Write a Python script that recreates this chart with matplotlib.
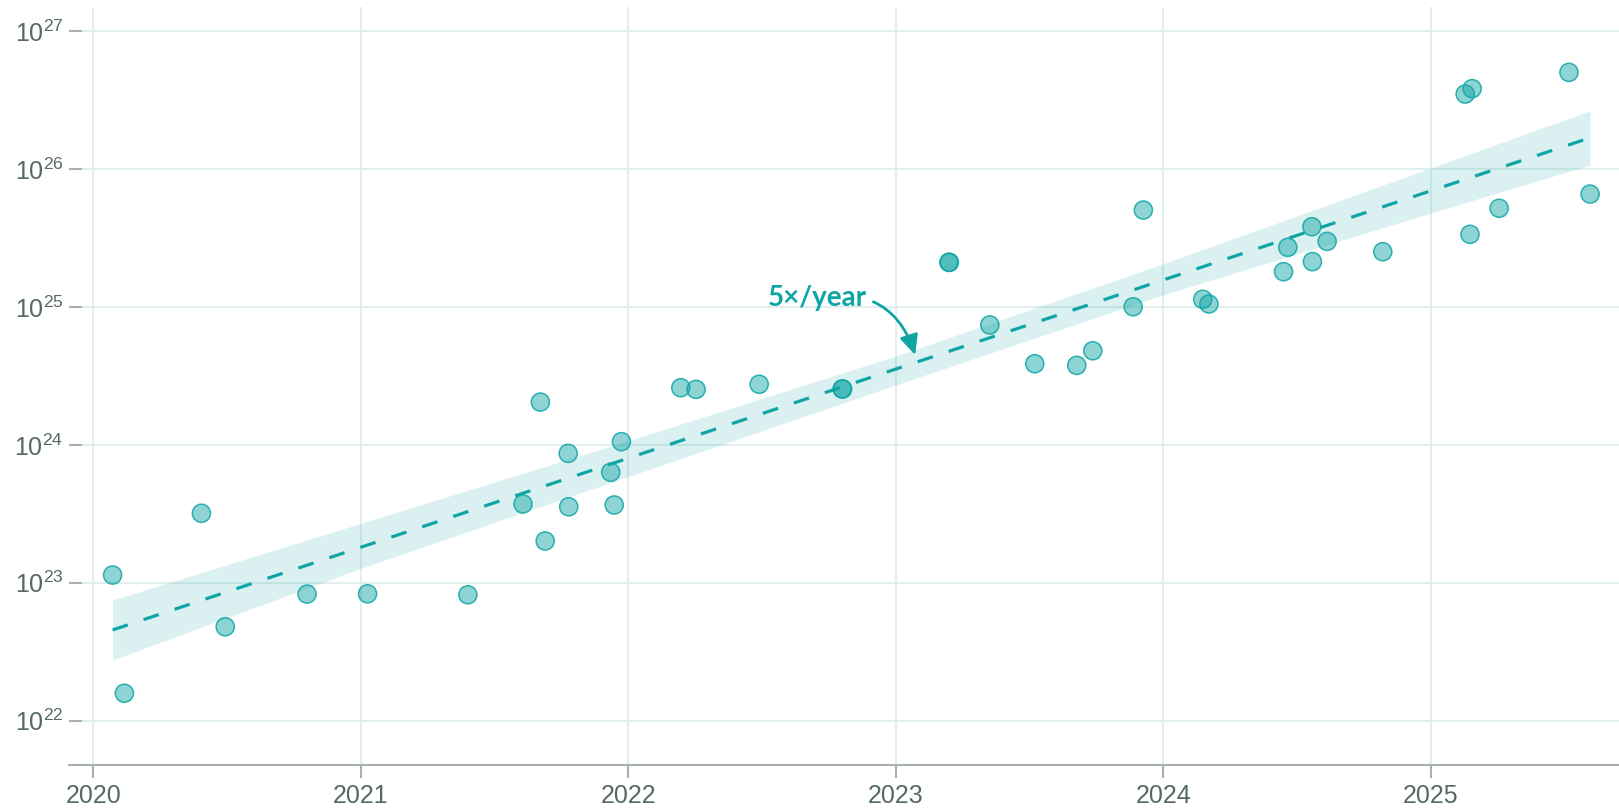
import numpy as np
import matplotlib
matplotlib.use("Agg")
import matplotlib.pyplot as plt
from matplotlib.ticker import FixedLocator

plt.rcParams['font.family'] = ['Liberation Sans', 'DejaVu Sans']
plt.rcParams['mathtext.default'] = 'regular'
plt.rcParams['lines.scale_dashes'] = False

# publication date (decimal year) and log10 of training compute
years = [2020.072, 2020.116, 2020.404, 2020.493, 2020.799, 2021.025, 2021.400,
         2021.606, 2021.671, 2021.689, 2021.775, 2021.777, 2021.934, 2021.947,
         2021.974, 2022.196, 2022.253, 2022.489, 2022.799, 2022.801, 2023.198,
         2023.200, 2023.351, 2023.519, 2023.676, 2023.736, 2023.887, 2023.925,
         2024.147, 2024.170, 2024.449, 2024.465, 2024.555, 2024.557, 2024.612,
         2024.820, 2025.128, 2025.146, 2025.154, 2025.255, 2025.516, 2025.595]
log_compute = [23.056, 22.199, 23.504, 22.681, 22.918, 22.920, 22.913,
               23.571, 24.310, 23.303, 23.938, 23.551, 23.801, 23.564,
               24.023, 24.414, 24.402, 24.439, 24.405, 24.405, 25.323,
               25.323, 24.869, 24.588, 24.576, 24.682, 25.001, 25.702,
               25.055, 25.021, 25.255, 25.432, 25.581, 25.328, 25.475,
               25.400, 26.543, 25.526, 26.582, 25.715, 26.700, 25.818]

# trend line and its confidence band (log10 values)
trend_years = [2020.072, 2025.595]
trend_log = [22.658, 26.226]
band_years = [2020.072, 2021.0, 2022.0, 2023.0, 2024.0, 2025.0, 2025.595]
band_lo = [22.440, 23.105, 23.770, 24.434, 25.088, 25.680, 26.029]
band_hi = [22.875, 23.431, 24.030, 24.644, 25.313, 26.008, 26.422]

tick_years = [2020, 2021, 2022, 2023, 2024, 2025]
tick_exps = [22, 23, 24, 25, 26, 27]

teal = '#0fa5a5'
grid_c = '#e3eeee'
axis_c = '#a9b0b0'
text_c = '#566868'

fig = plt.figure(figsize=(16.19, 8.10), dpi=100)
ax = fig.add_axes([69 / 1619, 45 / 810, 1 - 69 / 1619, (765 - 7) / 810])

ax.set_yscale('log')
ax.fill_between(band_years, 10.0 ** np.array(band_lo), 10.0 ** np.array(band_hi),
                color=teal, alpha=0.15, lw=0, zorder=2)
ax.plot(trend_years, 10.0 ** np.array(trend_log), color=teal, lw=2.3,
        dashes=(11.5, 12), zorder=3)
ax.scatter(years, 10.0 ** np.array(log_compute), s=170, facecolor=teal, alpha=0.47,
           edgecolor='none', zorder=4)
ax.scatter(years, 10.0 ** np.array(log_compute), s=170, facecolor='none',
           edgecolor=teal, linewidth=1.1, alpha=0.85, zorder=5)

ax.annotate('5×/year', xy=(2023.072, 10 ** 24.651), xytext=(2022.891, 10 ** 25.062),
            ha='right', va='center', fontsize=20, fontweight='bold', color=teal,
            family=['Lato', 'DejaVu Sans'],
            arrowprops=dict(arrowstyle='-|>,head_length=0.6,head_width=0.28',
                            color=teal, lw=2, mutation_scale=20,
                            connectionstyle='arc3,rad=-0.45',
                            shrinkA=3, shrinkB=0))

ax.set_xlim(2019.909, 2025.703)
ax.set_ylim(10 ** 21.679, 10 ** 27.174)

ax.xaxis.set_major_locator(FixedLocator(tick_years))
ax.set_xticklabels([str(y) for y in tick_years])
ax.yaxis.set_major_locator(FixedLocator([10.0 ** e for e in tick_exps]))
ax.yaxis.set_minor_locator(FixedLocator([]))
ax.set_yticklabels(['$10^{%d}$' % e for e in tick_exps])

ax.grid(True, color=grid_c, lw=1.5, zorder=0)
ax.set_axisbelow(True)
for s in ['top', 'right', 'left']:
    ax.spines[s].set_visible(False)
ax.spines['bottom'].set_color(axis_c)
ax.spines['bottom'].set_linewidth(1.5)

ax.tick_params(axis='x', direction='out', length=9.4, width=1.5, color=axis_c,
               labelsize=18, labelcolor=text_c, pad=4)
ax.tick_params(axis='y', direction='in', length=9.4, width=1.5, color=axis_c,
               labelsize=18, labelcolor=text_c, pad=4)

fig.savefig('out.png', dpi=100)
